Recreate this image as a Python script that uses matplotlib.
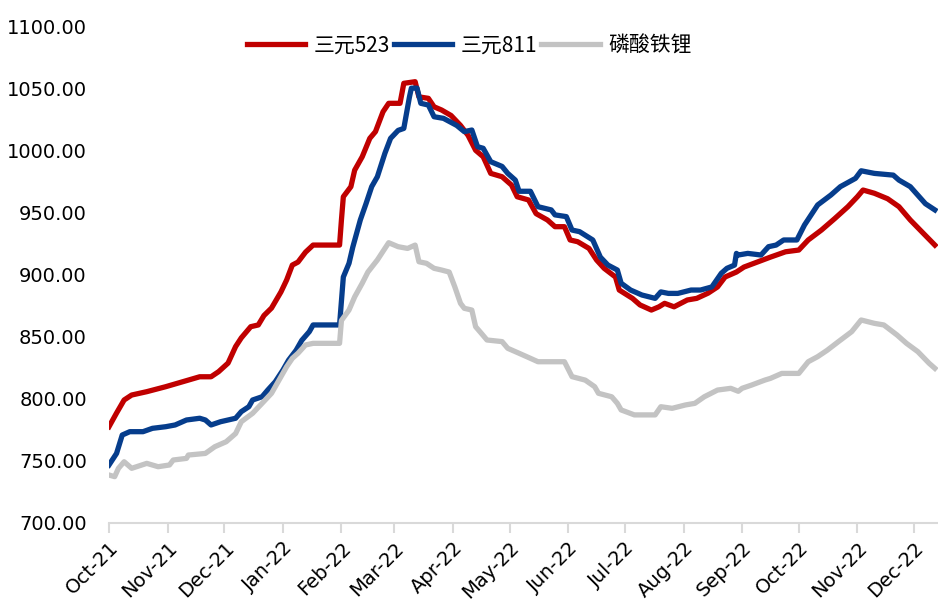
import matplotlib
matplotlib.use("Agg")
import matplotlib.pyplot as plt
import matplotlib.dates as mdates
from matplotlib.ticker import FuncFormatter
import pandas as pd

plt.rcParams['font.family'] = ['DejaVu Sans', 'Noto Sans CJK SC']

# 三元523
ncm523_dates = ['2021-10-01', '2021-10-05', '2021-10-09', '2021-10-13', '2021-10-21', '2021-10-31',
                '2021-11-09', '2021-11-18', '2021-11-24', '2021-11-28', '2021-12-03', '2021-12-07',
                '2021-12-10', '2021-12-15', '2021-12-19', '2021-12-22', '2021-12-26', '2021-12-31',
                '2022-01-03', '2022-01-06', '2022-01-09', '2022-01-13', '2022-01-17', '2022-01-31',
                '2022-02-01', '2022-02-02', '2022-02-06', '2022-02-08', '2022-02-12', '2022-02-16',
                '2022-02-19', '2022-02-23', '2022-02-26', '2022-03-04', '2022-03-06', '2022-03-12',
                '2022-03-14', '2022-03-19', '2022-03-22', '2022-03-26', '2022-03-31', '2022-04-05',
                '2022-04-09', '2022-04-13', '2022-04-17', '2022-04-21', '2022-04-27', '2022-05-02',
                '2022-05-05', '2022-05-11', '2022-05-15', '2022-05-21', '2022-05-25', '2022-05-30',
                '2022-06-02', '2022-06-06', '2022-06-12', '2022-06-16', '2022-06-20', '2022-06-26',
                '2022-06-28', '2022-07-05', '2022-07-09', '2022-07-15', '2022-07-19', '2022-07-22',
                '2022-07-27', '2022-08-03', '2022-08-08', '2022-08-14', '2022-08-19', '2022-08-23',
                '2022-08-29', '2022-09-02', '2022-09-09', '2022-09-16', '2022-09-24', '2022-10-01',
                '2022-10-06', '2022-10-13', '2022-10-20', '2022-10-27', '2022-11-01', '2022-11-04',
                '2022-11-10', '2022-11-17', '2022-11-23', '2022-11-29', '2022-12-06', '2022-12-12']
ncm523 = [777.5, 788.5, 799, 803, 805.7, 809.7,
          813.7, 817.7, 817.7, 821.8, 828.7, 842,
          849, 858, 859.4, 867, 873, 886,
          895.6, 907.6, 910, 918, 923.7, 923.7,
          944, 962.6, 970.7, 984, 994.8, 1009.6,
          1015, 1031, 1037.8, 1037.8, 1053.9, 1055.2,
          1043, 1041.8, 1035, 1032.4, 1028, 1020,
          1012, 1000, 994.8, 981.4, 978.7, 972,
          962.6, 960, 949, 943.9, 938.5, 938.5,
          927.8, 926.4, 921, 911.7, 905, 898,
          887.5, 880.8, 875.5, 871.4, 874, 876.8,
          874, 879.5, 880.8, 885, 890, 898,
          902, 906, 910, 914, 918.3, 919.7,
          927.8, 935.8, 945, 954.6, 962.6, 968,
          965.4, 961, 954.6, 943.9, 933, 923.7]

# 三元811
ncm811_dates = ['2021-10-01', '2021-10-05', '2021-10-08', '2021-10-12', '2021-10-19', '2021-10-24',
                '2021-10-31', '2021-11-05', '2021-11-11', '2021-11-18', '2021-11-21', '2021-11-24',
                '2021-11-29', '2021-12-07', '2021-12-10', '2021-12-14', '2021-12-16', '2021-12-21',
                '2021-12-24', '2021-12-28', '2022-01-01', '2022-01-04', '2022-01-08', '2022-01-11',
                '2022-01-15', '2022-01-17', '2022-01-31', '2022-02-02', '2022-02-05', '2022-02-07',
                '2022-02-11', '2022-02-14', '2022-02-17', '2022-02-20', '2022-02-24', '2022-02-27',
                '2022-03-03', '2022-03-06', '2022-03-09', '2022-03-10', '2022-03-13', '2022-03-15',
                '2022-03-19', '2022-03-22', '2022-03-27', '2022-04-03', '2022-04-07', '2022-04-11',
                '2022-04-14', '2022-04-17', '2022-04-21', '2022-04-27', '2022-04-30', '2022-05-04',
                '2022-05-06', '2022-05-12', '2022-05-16', '2022-05-23', '2022-05-25', '2022-05-31',
                '2022-06-03', '2022-06-07', '2022-06-14', '2022-06-18', '2022-06-22', '2022-06-27',
                '2022-06-29', '2022-07-04', '2022-07-10', '2022-07-17', '2022-07-20', '2022-07-24',
                '2022-07-29', '2022-08-05', '2022-08-10', '2022-08-16', '2022-08-21', '2022-08-24',
                '2022-08-28', '2022-08-29', '2022-08-30', '2022-09-04', '2022-09-11', '2022-09-15',
                '2022-09-19', '2022-09-23', '2022-09-30', '2022-10-04', '2022-10-11', '2022-10-18',
                '2022-10-23', '2022-10-31', '2022-11-03', '2022-11-10', '2022-11-20', '2022-11-23',
                '2022-11-29', '2022-12-07', '2022-12-12']
ncm811 = [746.7, 756, 770.8, 773.5, 773.5, 776.2,
          777.5, 778.9, 782.9, 784.3, 782.9, 778.9,
          781.5, 784.3, 789.6, 793.6, 799, 801.6,
          807, 813.7, 823, 831, 839, 847,
          854, 859.4, 859.4, 898, 909, 922,
          944, 957, 970.7, 978.7, 997.6, 1009.6,
          1016, 1017.6, 1043, 1050, 1050, 1037.8,
          1036.4, 1027, 1025.7, 1020, 1015, 1016.3,
          1002.9, 1001.6, 990.8, 987, 981.4, 976,
          967, 967, 954.6, 952, 948, 946.6,
          935.8, 934.5, 927.8, 914, 907.6, 903.6,
          893, 887.5, 883.5, 880.8, 886, 884.8,
          884.8, 887.5, 887.5, 890, 901, 905,
          907.6, 917, 915.7, 917, 915.7, 922.4,
          923.7, 927.8, 927.8, 939.8, 956, 964,
          970.7, 977.4, 983.5, 981.4, 980, 976,
          970.7, 957, 952]

# 磷酸铁锂
lfp_dates = ['2021-10-01', '2021-10-04', '2021-10-06', '2021-10-09', '2021-10-13', '2021-10-21',
             '2021-10-27', '2021-11-02', '2021-11-04', '2021-11-11', '2021-11-12', '2021-11-21',
             '2021-11-26', '2021-12-02', '2021-12-07', '2021-12-10', '2021-12-16', '2021-12-21',
             '2021-12-26', '2021-12-29', '2022-01-03', '2022-01-06', '2022-01-09', '2022-01-13',
             '2022-01-17', '2022-01-31', '2022-02-01', '2022-02-05', '2022-02-08', '2022-02-12',
             '2022-02-15', '2022-02-20', '2022-02-24', '2022-02-26', '2022-03-03', '2022-03-08',
             '2022-03-12', '2022-03-14', '2022-03-18', '2022-03-22', '2022-03-26', '2022-03-30',
             '2022-04-02', '2022-04-05', '2022-04-07', '2022-04-11', '2022-04-13', '2022-04-16',
             '2022-04-19', '2022-04-27', '2022-04-30', '2022-05-06', '2022-05-10', '2022-05-16',
             '2022-05-30', '2022-06-03', '2022-06-10', '2022-06-15', '2022-06-17', '2022-06-24',
             '2022-06-27', '2022-06-29', '2022-07-06', '2022-07-17', '2022-07-20', '2022-07-26',
             '2022-08-02', '2022-08-07', '2022-08-12', '2022-08-19', '2022-08-26', '2022-08-30',
             '2022-09-01', '2022-09-06', '2022-09-13', '2022-09-16', '2022-09-22', '2022-10-01',
             '2022-10-06', '2022-10-11', '2022-10-16', '2022-10-22', '2022-10-29', '2022-11-03',
             '2022-11-10', '2022-11-15', '2022-11-22', '2022-11-27', '2022-12-03', '2022-12-09',
             '2022-12-12']
lfp = [738.6, 737.3, 744, 749.3, 744, 748,
       745.3, 746.7, 750.7, 752, 754.7, 756,
       761.4, 765.4, 772, 781.5, 788.3, 796.3,
       804.4, 812.4, 825.8, 832.5, 836.6, 843.3,
       844.6, 844.6, 863, 871.4, 882, 893,
       902, 911.7, 921, 925.6, 922.4, 921,
       923.7, 910.3, 909, 905, 903.6, 902,
       890, 876.8, 872.8, 871.4, 858, 852.7,
       847.3, 846, 840.6, 836.6, 833.9, 829.8,
       829.8, 817.8, 815, 809.7, 804.4, 801.6,
       796.3, 791, 787, 787, 793.6, 792.3,
       795, 796.3, 801.6, 807, 808.4, 806,
       808.4, 811, 815, 816.4, 820.4, 820.4,
       829.8, 833.9, 839, 846, 854, 863.4,
       860.7, 859.4, 851.3, 844.6, 837.9, 828.5,
       824.5]

fig = plt.figure(figsize=(9.38, 6.07), dpi=100)
ax = fig.add_axes([0.1162, 0.1384, 0.8838, 0.8187])

ax.plot(pd.to_datetime(ncm523_dates), ncm523, color='#C00000', lw=3.8, label='三元523', solid_joinstyle='round')
ax.plot(pd.to_datetime(ncm811_dates), ncm811, color='#063D8C', lw=3.8, label='三元811', solid_joinstyle='round')
ax.plot(pd.to_datetime(lfp_dates), lfp, color='#C3C3C3', lw=3.8, label='磷酸铁锂', solid_joinstyle='round')

ax.set_ylim(700, 1100)
ax.set_yticks(range(700, 1101, 50))
ax.yaxis.set_major_formatter(FuncFormatter(lambda v, p: '{:.2f}'.format(v)))
ax.set_xlim(pd.Timestamp('2021-10-01'), pd.Timestamp('2022-12-13 16:00'))
ax.xaxis.set_major_locator(mdates.MonthLocator())
ax.xaxis.set_major_formatter(mdates.DateFormatter('%b-%y'))

for s in ['top', 'right', 'left']:
    ax.spines[s].set_visible(False)
ax.spines['bottom'].set_color('#D9D9D9')
ax.spines['bottom'].set_linewidth(1.5)
ax.tick_params(axis='y', length=0, pad=16, labelsize=14)
ax.tick_params(axis='x', length=7, width=1.5, color='#D9D9D9', pad=4, labelsize=14)
for lbl in ax.get_xticklabels():
    lbl.set_rotation(45)
    lbl.set_ha('right')
    lbl.set_rotation_mode('anchor')

leg = ax.legend(loc='center', bbox_to_anchor=(0.5, 0.925), bbox_transform=fig.transFigure,
                ncol=3, frameon=False, handlelength=2.8, handletextpad=0.4, columnspacing=0.2,
                prop={'family': ['Noto Sans CJK SC', 'DejaVu Sans'], 'size': 15})

fig.savefig('out.png', dpi=100)
